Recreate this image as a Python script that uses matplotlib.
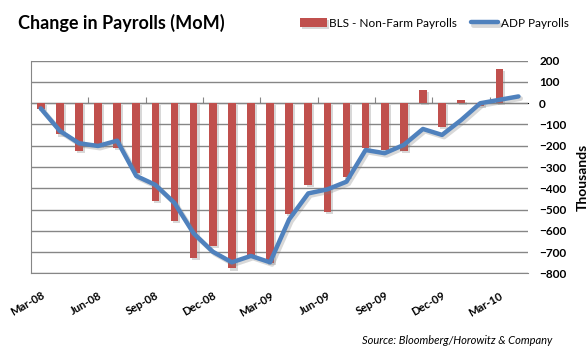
import numpy as np
import matplotlib
matplotlib.use('Agg')
import matplotlib.pyplot as plt
import matplotlib.patheffects as pe

plt.rcParams['font.family'] = ['Lato', 'DejaVu Sans']

months = ['Mar-08', 'Apr-08', 'May-08', 'Jun-08', 'Jul-08', 'Aug-08', 'Sep-08',
          'Oct-08', 'Nov-08', 'Dec-08', 'Jan-09', 'Feb-09', 'Mar-09', 'Apr-09',
          'May-09', 'Jun-09', 'Jul-09', 'Aug-09', 'Sep-09', 'Oct-09', 'Nov-09',
          'Dec-09', 'Jan-10', 'Feb-10', 'Mar-10', 'Apr-10']
# BLS has no Apr-10 value yet
bls = [-28, -147, -224, -200, -209, -330, -458, -552, -726, -670, -777, -719,
       -750, -522, -384, -513, -345, -209, -220, -223, 63, -110, 16, -14, 162,
       np.nan]
adp = [-24, -130, -188, -201, -176, -342, -384, -469, -612, -698, -748, -718,
       -748, -546, -424, -405, -369, -220, -235, -196, -121, -149, -79, 0, 16, 32]
yticks = list(range(-800, 201, 100))

red = '#C0504D'
blue = '#4F81BD'
grid = '#868686'

fig = plt.figure(figsize=(5.88, 3.55), dpi=100)
ax = fig.add_axes([0.053, 0.23, 0.845, 0.599])

x = np.arange(len(months))
shadow_p = [pe.SimplePatchShadow(offset=(1.5, -1.5), shadow_rgbFace='gray', alpha=0.3), pe.Normal()]
shadow_l = [pe.SimpleLineShadow(offset=(1.5, -1.5), shadow_color='gray', alpha=0.3, linewidth=3.5), pe.Normal()]

bars = ax.bar(x, bls, width=0.4, color=red, label='BLS - Non-Farm Payrolls', zorder=3)
for b in bars:
    b.set_path_effects(shadow_p)
line, = ax.plot(x, adp, color=blue, lw=3.2, label='ADP Payrolls', zorder=4,
                path_effects=shadow_l, solid_joinstyle='round', solid_capstyle='round')

ax.set_xlim(-0.5, len(months) - 0.5)
ax.set_ylim(-800, 200)
ax.set_yticks(yticks)
ax.yaxis.tick_right()
ax.tick_params(axis='y', length=0, pad=8, labelsize=8.5)
for t in ax.get_yticklabels():
    t.set_fontweight('bold')
ax.grid(axis='y', color=grid, lw=1, zorder=0)

ax.set_xticks(x[::3])
ax.set_xticklabels(months[::3], rotation=30, ha='right', rotation_mode='anchor',
                   fontweight='bold', fontsize=8)
ax.tick_params(axis='x', length=0, pad=12)

for s in ['top', 'right']:
    ax.spines[s].set_visible(False)
ax.spines['left'].set_color(grid)
ax.spines['bottom'].set_color(grid)

# category axis crossing at zero
sec = ax.secondary_xaxis(0.8)
sec.set_xticks(np.arange(2.5, len(months), 3))
sec.set_xticklabels([])
sec.tick_params(length=4, color=grid, direction='out')
sec.spines['bottom'].set_color(grid)

ax.text(1.11, 0.45, 'Thousands', transform=ax.transAxes, rotation=90,
        ha='center', va='center', fontweight='bold', fontsize=10)

fig.text(0.03, 0.935, 'Change in Payrolls (MoM)', fontsize=13, fontweight='bold',
         va='center')
fig.legend(handles=[bars, line], loc='center right', bbox_to_anchor=(0.985, 0.935),
           ncol=2, frameon=False, fontsize=8.5, handlelength=2.3, handletextpad=0.2,
           columnspacing=1.2)
fig.text(0.94, 0.04, 'Source: Bloomberg/Horowitz & Company', fontsize=8,
         style='italic', ha='right', va='center')

fig.savefig('out.png', dpi=100)
